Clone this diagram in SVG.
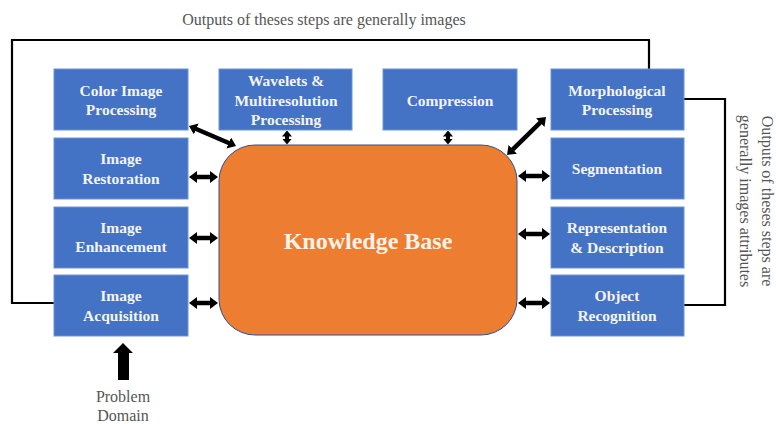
<svg xmlns="http://www.w3.org/2000/svg" width="776" height="424" viewBox="0 0 776 424">
<style>
.box{fill:#4472C4;stroke:#6C93D6;stroke-width:1}
.bt{font-family:"Liberation Serif",serif;font-weight:bold;font-size:15.5px;fill:#F4F4F4;text-anchor:middle}
.note{font-family:"Liberation Serif",serif;font-size:16px;fill:#555;text-anchor:middle}
.fb{fill:none;stroke:#000;stroke-width:2.2}
.da{stroke:#000;stroke-width:4.5;marker-start:url(#ah);marker-end:url(#ah)}
.ds{stroke:#000;stroke-width:4;marker-start:url(#as);marker-end:url(#as)}
</style>
<defs>
<marker id="ah" viewBox="0 0 8 12" refX="2" refY="6" markerWidth="8" markerHeight="12" markerUnits="userSpaceOnUse" orient="auto-start-reverse">
<path d="M0,0 L8,6 L0,12 z" fill="#000"/>
</marker>
<marker id="as" viewBox="0 0 6 10" refX="1.5" refY="5" markerWidth="6" markerHeight="10" markerUnits="userSpaceOnUse" orient="auto-start-reverse">
<path d="M0,0 L6,5 L0,10 z" fill="#000"/>
</marker>
</defs>
<rect width="776" height="424" fill="#fff"/>
<text class="note" x="324" y="25">Outputs of theses steps are generally  images</text>
<g id="connectors">
<polyline class="fb" points="54,303 12,303 12,40 649,40 649,69"/>
<polyline class="fb" points="684,99 725,99 725,305 684,305"/>
<line class="da" x1="194.5" y1="128.3" x2="230.5" y2="143.7"/>
<line class="ds" x1="287" y1="135" x2="287" y2="140"/>
<line class="ds" x1="448" y1="135" x2="448" y2="140"/>
<line class="da" x1="541.7" y1="121.2" x2="511.3" y2="150.8"/>
<line class="da" x1="195" y1="177" x2="212" y2="177"/>
<line class="da" x1="195" y1="238" x2="212" y2="238"/>
<line class="da" x1="195" y1="303" x2="212" y2="303"/>
<line class="da" x1="524" y1="176" x2="544" y2="176"/>
<line class="da" x1="524" y1="234" x2="544" y2="234"/>
<line class="da" x1="524" y1="303" x2="544" y2="303"/>
<path d="M118,380 L118,353 L113,353 L123,343 L133,353 L129,353 L129,380 z" fill="#000"/>
</g>
<g id="kb">
<rect x="219" y="145" width="298" height="190" rx="36" fill="#ED7D31" stroke="#2F528F" stroke-width="1"/>
<text x="368" y="249" font-family="Liberation Serif,serif" font-weight="bold" font-size="24" fill="#FBF3E8" text-anchor="middle">Knowledge Base</text>
</g>
<g id="color"><rect class="box" x="54" y="69" width="134" height="61"/><text class="bt" x="121" y="96">Color Image</text><text class="bt" x="121" y="115">Processing</text></g>
<g id="wavelets"><rect class="box" x="219" y="69" width="133" height="61"/><text class="bt" x="286" y="86">Wavelets &amp;</text><text class="bt" x="286" y="106">Multiresolution</text><text class="bt" x="286" y="125">Processing</text></g>
<g id="compression"><rect class="box" x="383" y="69" width="134" height="61"/><text class="bt" x="450" y="106">Compression</text></g>
<g id="morph"><rect class="box" x="551" y="69" width="133" height="61"/><text class="bt" x="617" y="96">Morphological</text><text class="bt" x="617" y="115">Processing</text></g>
<g id="restoration"><rect class="box" x="54" y="138" width="134" height="61"/><text class="bt" x="121" y="164">Image</text><text class="bt" x="121" y="184">Restoration</text></g>
<g id="enhancement"><rect class="box" x="54" y="207" width="134" height="61"/><text class="bt" x="121" y="233">Image</text><text class="bt" x="121" y="252">Enhancement</text></g>
<g id="acquisition"><rect class="box" x="54" y="275" width="134" height="61"/><text class="bt" x="121" y="301">Image</text><text class="bt" x="121" y="321">Acquisition</text></g>
<g id="segmentation"><rect class="box" x="551" y="138" width="133" height="61"/><text class="bt" x="617" y="174">Segmentation</text></g>
<g id="representation"><rect class="box" x="551" y="207" width="133" height="61"/><text class="bt" x="617" y="233">Representation</text><text class="bt" x="617" y="253">&amp; Description</text></g>
<g id="recognition"><rect class="box" x="551" y="275" width="133" height="61"/><text class="bt" x="617" y="301">Object</text><text class="bt" x="617" y="321">Recognition</text></g>
<g id="problem"><text class="note" x="123" y="402">Problem</text><text class="note" x="123" y="421">Domain</text></g>
<g id="rightnote" transform="translate(0,201) rotate(90)">
<text class="note" x="0" y="-762">Outputs of theses steps are</text>
<text class="note" x="0" y="-740">generally  images attributes</text>
</g>
</svg>
